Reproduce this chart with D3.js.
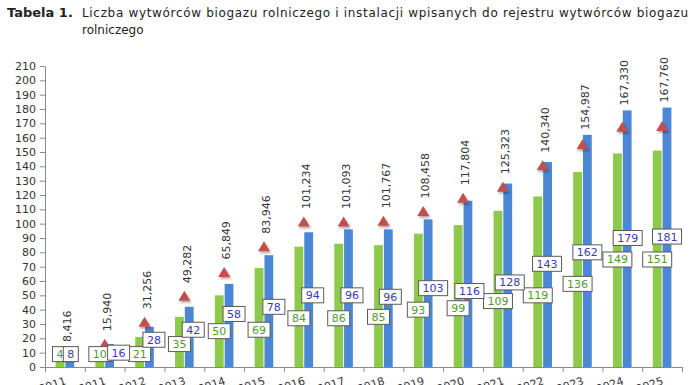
<!DOCTYPE html>
<html><head><meta charset="utf-8">
<script src="https://cdn.jsdelivr.net/npm/d3@7"></script>
<style>body{margin:0;background:#fff} svg{display:block}</style>
</head><body>
<script>
// ---- data ----
const categories = ["2011","2011","2012","2013","2014","2015","2016","2017","2018","2019","2020","2021","2022","2023","2024","2025"];
const producers = [4,10,21,35,50,69,84,86,85,93,99,109,119,136,149,151];
const installations = [8,16,28,42,58,78,94,96,96,103,116,128,143,162,179,181];
const capacity = [8416,15940,31256,49282,65849,83946,101234,101093,101767,108458,117804,125323,140340,154987,167330,167760];
const yTicks = d3.range(0, 211, 10);

// ---- layout of the (manually placed) data-label boxes, in axis units ----
const greenLabelLevel = [9,9,9,16,25,26,34,34,35,40,41,46,50,58,75,75];
const blueLabelLevel  = [9,10,19,26,37,42,50,50,49,55,53,59,72,80,90,91];
const blueLabelShift  = [1,9,4.5,4,5,5,4,3.5,2,5,1.5,2,-0.5,0,0.5,0];

const W = 696, H = 385;
const FONT = "'DejaVu Sans', Verdana, sans-serif";
const svg = d3.select("body").append("svg").attr("width", W).attr("height", H)
  .style("font-family", FONT);

const defs = svg.append("defs");
const f = defs.append("filter").attr("id","sh").attr("x","-50%").attr("y","-50%").attr("width","200%").attr("height","200%");
f.append("feDropShadow").attr("dx",1.2).attr("dy",1.8).attr("stdDeviation",1.2)
  .attr("flood-color","#000").attr("flood-opacity",0.35);

// title
svg.append("text").attr("x", 7).attr("y", 17).attr("font-size", 13).attr("font-weight", "bold")
  .attr("fill", "#222").text("Tabela 1.");
svg.append("text").attr("x", 82).attr("y", 17).attr("font-size", 12).attr("fill", "#222")
  .attr("textLength", 606).attr("lengthAdjust", "spacing")
  .text("Liczba wytwórców biogazu rolniczego i instalacji wpisanych do rejestru wytwórców biogazu");
svg.append("text").attr("x", 82).attr("y", 34).attr("font-size", 12).attr("fill", "#222")
  .text("rolniczego");

// scales
const idx = d3.range(categories.length);
const x = d3.scaleBand().domain(idx).range([45, 682]);
const xs = d3.scaleBand().domain(["g","b"]).range([x.bandwidth()/2 - 9.3, x.bandwidth()/2 + 9.3]).paddingInner(0.1);
const xl = d3.scaleLinear().domain([0, categories.length]).range([45, 682]);
const y = d3.scaleLinear().domain([0, 210]).range([367, 66]);

// y axis
const ya = svg.append("g").attr("transform", "translate(45,0)")
  .call(d3.axisLeft(y).tickValues(yTicks).tickSize(5).tickPadding(4).tickSizeOuter(0));
ya.select(".domain").attr("stroke", "#8a8a8a");
ya.selectAll(".tick line").attr("stroke", "#8a8a8a");
ya.selectAll(".tick text").attr("font-size", 11).attr("fill", "#333").attr("font-family", FONT);

// bars
const g = svg.append("g");
g.selectAll("rect.g").data(idx).join("rect").attr("class","g")
  .attr("x", i => x(i) + xs("g")).attr("width", xs.bandwidth())
  .attr("y", i => y(producers[i])).attr("height", i => y(0) - y(producers[i]))
  .attr("fill", "#8dc94a");
g.selectAll("rect.b").data(idx).join("rect").attr("class","b")
  .attr("x", i => x(i) + xs("b")).attr("width", xs.bandwidth())
  .attr("y", i => y(installations[i])).attr("height", i => y(0) - y(installations[i]))
  .attr("fill", "#4b87d5");

// x axis
const xa = svg.append("g").attr("transform", `translate(0,${y(0)})`)
  .call(d3.axisBottom(xl).tickValues(d3.range(categories.length + 1)).tickSize(5).tickFormat(""));
xa.select(".domain").attr("stroke", "#8a8a8a");
xa.selectAll(".tick line").attr("stroke", "#8a8a8a");
svg.append("g").selectAll("text").data(idx).join("text")
  .attr("transform", i => `translate(${x(i) + x.bandwidth()/2 + 2},384) rotate(-19)`)
  .attr("text-anchor", "end").attr("font-size", 11).attr("fill", "#333")
  .text(i => categories[i]);

// triangles
const tri = "M0,-5.5L6,4.5L-6,4.5Z";
svg.append("g").selectAll("path").data(idx).join("path")
  .attr("d", tri)
  .attr("transform", i => `translate(${x(i) + x.bandwidth()/2},${y(capacity[i]/1000)})`)
  .attr("fill", "#c0504d").attr("filter", "url(#sh)");

// triangle labels
const fmt = d3.format(",");
svg.append("g").selectAll("text").data(idx).join("text")
  .attr("transform", i => {
    const base = Math.min(y(capacity[i]/1000) - 13, y(installations[i]) - 5);
    return `translate(${x(i) + x.bandwidth()/2 + 2.3},${base}) rotate(-90)`;
  })
  .attr("dy", "0.35em").attr("font-size", 11).attr("fill", "#333")
  .text(i => fmt(capacity[i]));

// label boxes
function box(sel, cxF, cyF, txtF, color) {
  const gg = sel.append("g").attr("transform", `translate(${cxF},${cyF})`);
  const t = gg.append("text").attr("text-anchor", "middle").attr("dy", "0.36em")
    .attr("font-size", 11).attr("fill", color).text(txtF);
  const w = t.node().getComputedTextLength() + 8;
  gg.insert("rect", "text").attr("x", -w/2).attr("y", -7.5).attr("width", w).attr("height", 15)
    .attr("fill", "#fff").attr("stroke", "#5a5a5a").attr("stroke-width", 1);
}
const lb = svg.append("g");
idx.forEach(i => box(lb, x(i) + xs("g") + xs.bandwidth()/2, y(greenLabelLevel[i]), producers[i], "#4f9a35"));
idx.forEach(i => box(lb, x(i) + xs("b") + xs.bandwidth()/2 + blueLabelShift[i], y(blueLabelLevel[i]), installations[i], "#3a3ab4"));
</script>
</body></html>
